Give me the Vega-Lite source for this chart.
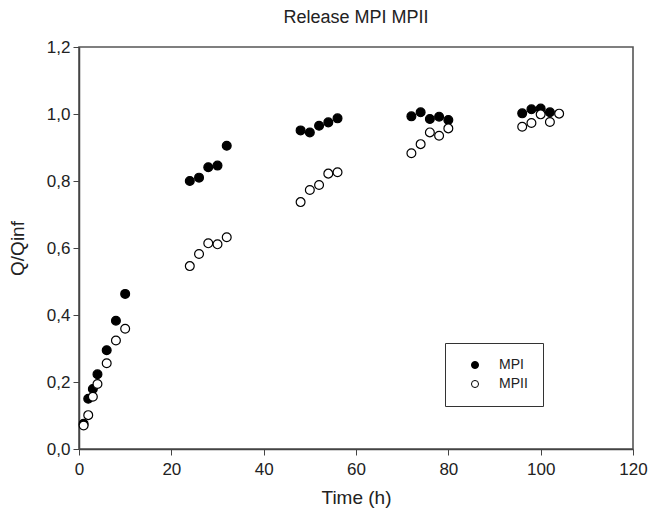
{
  "$schema": "https://vega.github.io/schema/vega-lite/v6.json",
  "width": 554,
  "height": 402,
  "padding": {"left": 79, "top": 47, "right": 21, "bottom": 69},
  "autosize": {"type": "none"},
  "background": "white",
  "config": {
    "font": "Liberation Sans",
    "view": {"stroke": "#555", "strokeWidth": 1.6}
  },
  "title": {
    "text": "Release MPI MPII",
    "fontSize": 18,
    "fontWeight": "normal",
    "color": "#222",
    "offset": 11
  },
  "data": {
    "values": [
      {"t": 1, "q": 0.075, "s": "MPI"},
      {"t": 2, "q": 0.150, "s": "MPI"},
      {"t": 3, "q": 0.179, "s": "MPI"},
      {"t": 4, "q": 0.223, "s": "MPI"},
      {"t": 6, "q": 0.295, "s": "MPI"},
      {"t": 8, "q": 0.383, "s": "MPI"},
      {"t": 10, "q": 0.463, "s": "MPI"},
      {"t": 24, "q": 0.800, "s": "MPI"},
      {"t": 26, "q": 0.810, "s": "MPI"},
      {"t": 28, "q": 0.841, "s": "MPI"},
      {"t": 30, "q": 0.846, "s": "MPI"},
      {"t": 32, "q": 0.905, "s": "MPI"},
      {"t": 48, "q": 0.951, "s": "MPI"},
      {"t": 50, "q": 0.945, "s": "MPI"},
      {"t": 52, "q": 0.965, "s": "MPI"},
      {"t": 54, "q": 0.975, "s": "MPI"},
      {"t": 56, "q": 0.987, "s": "MPI"},
      {"t": 72, "q": 0.993, "s": "MPI"},
      {"t": 74, "q": 1.005, "s": "MPI"},
      {"t": 76, "q": 0.985, "s": "MPI"},
      {"t": 78, "q": 0.992, "s": "MPI"},
      {"t": 80, "q": 0.982, "s": "MPI"},
      {"t": 96, "q": 1.002, "s": "MPI"},
      {"t": 98, "q": 1.014, "s": "MPI"},
      {"t": 100, "q": 1.016, "s": "MPI"},
      {"t": 102, "q": 1.005, "s": "MPI"},
      {"t": 1, "q": 0.070, "s": "MPII"},
      {"t": 2, "q": 0.101, "s": "MPII"},
      {"t": 3, "q": 0.156, "s": "MPII"},
      {"t": 4, "q": 0.194, "s": "MPII"},
      {"t": 6, "q": 0.256, "s": "MPII"},
      {"t": 8, "q": 0.324, "s": "MPII"},
      {"t": 10, "q": 0.359, "s": "MPII"},
      {"t": 24, "q": 0.546, "s": "MPII"},
      {"t": 26, "q": 0.582, "s": "MPII"},
      {"t": 28, "q": 0.614, "s": "MPII"},
      {"t": 30, "q": 0.611, "s": "MPII"},
      {"t": 32, "q": 0.632, "s": "MPII"},
      {"t": 48, "q": 0.737, "s": "MPII"},
      {"t": 50, "q": 0.773, "s": "MPII"},
      {"t": 52, "q": 0.788, "s": "MPII"},
      {"t": 54, "q": 0.822, "s": "MPII"},
      {"t": 56, "q": 0.826, "s": "MPII"},
      {"t": 72, "q": 0.883, "s": "MPII"},
      {"t": 74, "q": 0.910, "s": "MPII"},
      {"t": 76, "q": 0.945, "s": "MPII"},
      {"t": 78, "q": 0.935, "s": "MPII"},
      {"t": 80, "q": 0.957, "s": "MPII"},
      {"t": 96, "q": 0.962, "s": "MPII"},
      {"t": 98, "q": 0.973, "s": "MPII"},
      {"t": 100, "q": 0.999, "s": "MPII"},
      {"t": 102, "q": 0.976, "s": "MPII"},
      {"t": 104, "q": 1.001, "s": "MPII"}
    ]
  },
  "mark": {"type": "point", "shape": "circle", "filled": true, "stroke": "black", "strokeWidth": 1.2, "size": 78, "opacity": 1},
  "encoding": {
    "x": {
      "field": "t", "type": "quantitative",
      "scale": {"domain": [0, 120], "nice": false, "zero": true},
      "axis": {
        "values": [0, 20, 40, 60, 80, 100, 120],
        "title": "Time (h)", "titleFontSize": 19, "titleFontWeight": "normal", "titleColor": "#222", "titlePadding": 11,
        "labelFontSize": 17, "labelColor": "#222", "labelPadding": 6,
        "grid": false, "tickSize": 6, "tickColor": "#444", "domainColor": "#444", "domainWidth": 1.5,
        "labelFlush": false
      }
    },
    "y": {
      "field": "q", "type": "quantitative",
      "scale": {"domain": [0, 1.2], "nice": false},
      "axis": {
        "values": [0, 0.2, 0.4, 0.6, 0.8, 1.0, 1.2],
        "labelExpr": "replace(format(datum.value, '.1f'), '.', ',')",
        "title": "Q/Qinf", "titleFontSize": 19, "titleFontWeight": "normal", "titleColor": "#222", "titlePadding": 19,
        "labelFontSize": 17, "labelColor": "#222", "labelPadding": 3,
        "grid": false, "tickSize": 6, "tickColor": "#444", "domainColor": "#444", "domainWidth": 1.5,
        "labelFlush": false
      }
    },
    "fill": {
      "field": "s", "type": "nominal",
      "scale": {"domain": ["MPI", "MPII"], "range": ["black", "white"]},
      "legend": {
        "title": null,
        "orient": "none",
        "legendX": 366,
        "legendY": 296,
        "strokeColor": "#333",
        "padding": 15,
        "labelFontSize": 14,
        "labelColor": "#222",
        "labelOffset": 17,
        "symbolOffset": 8,
        "symbolSize": 50,
        "symbolStrokeColor": "black",
        "symbolStrokeWidth": 1,
        "rowPadding": 5,
        "offset": 0
      }
    }
  }
}
